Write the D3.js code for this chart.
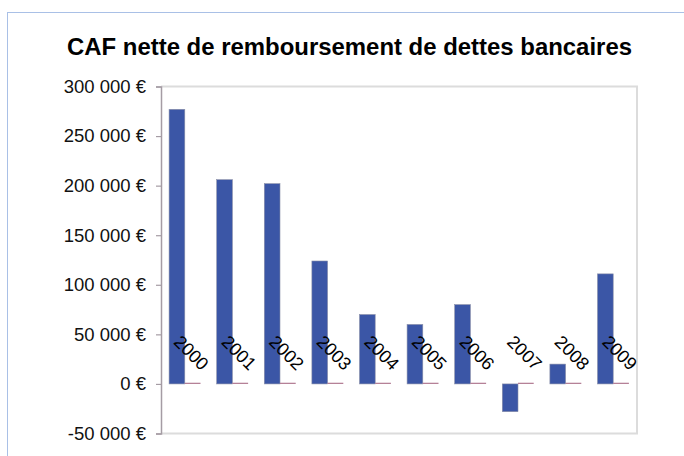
<!DOCTYPE html>
<html><head><meta charset="utf-8">
<script src="https://cdn.jsdelivr.net/npm/d3@7"></script>
<style>html,body{margin:0;padding:0;background:#fff;}svg{display:block;}</style>
</head><body>
<script>
const title = "CAF nette de remboursement de dettes bancaires";
const categories = ["2000","2001","2002","2003","2004","2005","2006","2007","2008","2009"];
const serie1 = [277000, 206000, 202000, 124000, 70000, 60000, 80000, -28000, 20000, 111000];
const serie2 = [1200, 1200, 1200, 1200, 1200, 1200, 1200, 1200, 1200, 1200];
const yTicks = [-50000, 0, 50000, 100000, 150000, 200000, 250000, 300000];

const W = 684, H = 456;
const svg = d3.select("body").append("svg").attr("width", W).attr("height", H);

// outer frame
svg.append("rect").attr("x", 7.5).attr("y", 12.5).attr("width", 700).attr("height", 500)
  .attr("fill", "none").attr("stroke", "#a9c0e6").attr("stroke-width", 1);

const m = {left: 161, right: 637, top: 86.5, bottom: 433.5};
const y = d3.scaleLinear().domain([-50000, 300000]).range([m.bottom, m.top]);
const x = d3.scaleBand().domain(categories).range([m.left, m.right]).paddingInner(0).paddingOuter(0);
const bw = x.bandwidth();
const sub = d3.scaleBand().domain([0,1]).range([0, bw]).paddingOuter(0.515).paddingInner(0);

// plot area border (top, right, bottom)
svg.append("path")
  .attr("d", `M${m.left},${m.top}H${m.right}V${m.bottom}H${m.left}`)
  .attr("fill", "none").attr("stroke", "#dcdcdc").attr("stroke-width", 2);

// title
svg.append("text").attr("x", 349.5).attr("y", 55).attr("text-anchor", "middle")
  .attr("font-family", "Liberation Sans, Arial, sans-serif").attr("font-weight", "bold")
  .attr("font-size", 23).attr("textLength", 565).attr("lengthAdjust", "spacingAndGlyphs")
  .attr("fill", "#000").text(title);

// bars series 1
svg.append("g").selectAll("rect").data(serie1).join("rect")
  .attr("x", (d,i) => x(categories[i]) + sub(0))
  .attr("width", sub.bandwidth())
  .attr("y", d => y(Math.max(0, d)))
  .attr("height", d => Math.abs(y(d) - y(0)))
  .attr("fill", "#3b56a6").attr("stroke", "#8a8fa8").attr("stroke-width", 0.6);

// bars series 2
svg.append("g").selectAll("rect").data(serie2).join("rect")
  .attr("x", (d,i) => x(categories[i]) + sub(1))
  .attr("width", sub.bandwidth())
  .attr("y", d => y(Math.max(0, d)))
  .attr("height", d => Math.abs(y(d) - y(0)))
  .attr("fill", "#b07890");

// y axis
const yAxis = d3.axisLeft(y).tickValues(yTicks).tickSize(5).tickPadding(10)
  .tickFormat(d => (d < 0 ? "-" : "") + d3.format(",")(Math.abs(d)).replace(/,/g, "\u00a0") + "\u00a0€");
const ga = svg.append("g").attr("transform", `translate(${m.left},0)`).call(yAxis);
ga.select(".domain").attr("stroke", "#a59ca4").attr("stroke-width", 1.5);
ga.selectAll(".tick line").attr("stroke", "#a59ca4").attr("stroke-width", 1.2);
ga.selectAll(".tick text").attr("font-family", "Liberation Sans, Arial, sans-serif")
  .attr("font-size", 18.5).attr("fill", "#111");

// category labels (rotated)
svg.append("g").selectAll("text").data(categories).join("text")
  .attr("transform", d => `translate(${x(d) + bw/2 - 12},${343}) rotate(45)`)
  .attr("font-family", "Liberation Sans, Arial, sans-serif").attr("font-size", 18)
  .attr("fill", "#000").text(d => d);
</script>
</body></html>
